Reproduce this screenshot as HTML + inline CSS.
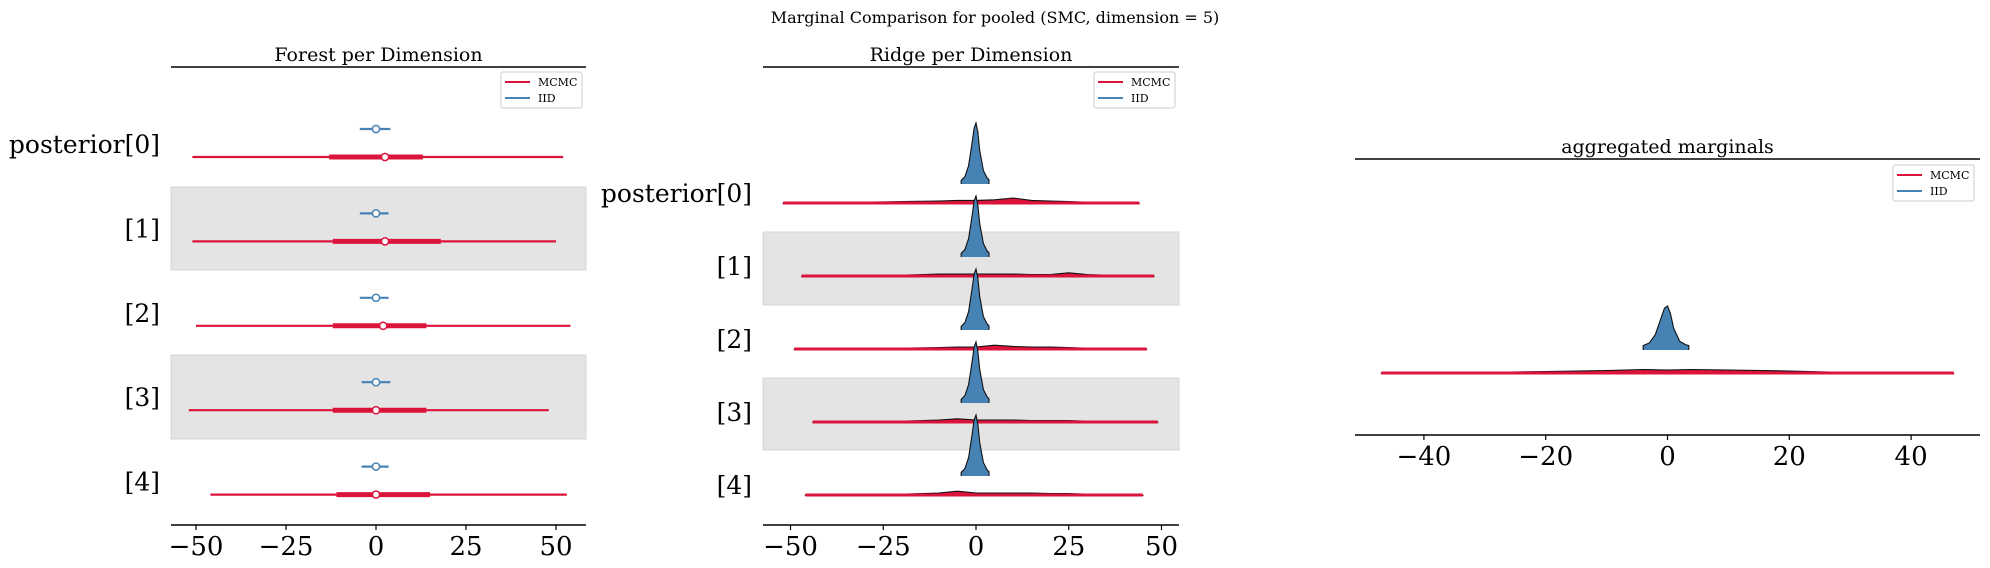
<!DOCTYPE html>
<html><head><meta charset="utf-8"><style>
html,body{margin:0;padding:0;background:#fff;}
svg{display:block;font-family:"DejaVu Serif","Liberation Serif",serif;}
</style></head><body>
<svg id="fig" width="1990" height="568" viewBox="0 0 1990 568" xmlns="http://www.w3.org/2000/svg">
<text x="995" y="23" font-size="16" text-anchor="middle">Marginal Comparison for pooled (SMC, dimension = 5)</text>
<g id="p1"></g>
<g id="p2"></g>
<g id="p3"></g>
</svg>
<script>
const rowLabels = ["posterior[0]","[1]","[2]","[3]","[4]"];
// forest data
const mcmcMedian = [2.5, 2.5, 2, 0, 0];
const mcmcOuterLo = [-51, -51, -50, -52, -46];
const mcmcOuterHi = [52, 50, 54, 48, 53];
const mcmcInnerLo = [-13, -12, -12, -12, -11];
const mcmcInnerHi = [13, 18, 14, 14, 15];
const iidMedian = [0, 0, 0, 0, 0];
const iidLo = [-4.5, -4.5, -4.5, -4, -4];
const iidHi = [4, 3.5, 3.5, 4, 3.5];
const forestTicks = [-50, -25, 0, 25, 50];
// ridge data
const iidGrid = [-4, -3, -2, -1, -0.5, 0, 0.5, 1, 2, 3, 3.5];
const iidDens = [
 [0.06,0.12,0.3,0.7,0.92,1.0,0.85,0.55,0.22,0.1,0.07],
 [0.06,0.12,0.3,0.7,0.92,1.0,0.85,0.55,0.22,0.1,0.07],
 [0.06,0.12,0.3,0.7,0.92,1.0,0.85,0.55,0.22,0.1,0.07],
 [0.06,0.12,0.3,0.7,0.92,1.0,0.85,0.55,0.22,0.1,0.07],
 [0.06,0.12,0.3,0.7,0.92,1.0,0.85,0.55,0.22,0.1,0.07]];
const redGrid = [-52,-40,-30,-20,-10,-5,0,5,10,15,20,25,30,40,49];
const redLo = [-52,-47,-49,-44,-46];
const redHi = [44,48,46,49,45];
const redDens = [
 [0.01,0.02,0.03,0.04,0.05,0.06,0.06,0.07,0.1,0.06,0.05,0.04,0.03,0.02,0.01],
 [0.01,0.02,0.03,0.03,0.05,0.05,0.05,0.05,0.05,0.04,0.04,0.07,0.04,0.02,0.01],
 [0.01,0.02,0.02,0.03,0.04,0.05,0.05,0.08,0.06,0.05,0.05,0.04,0.03,0.02,0.01],
 [0.01,0.02,0.03,0.03,0.05,0.07,0.05,0.05,0.05,0.04,0.04,0.04,0.03,0.02,0.01],
 [0.01,0.02,0.03,0.03,0.05,0.08,0.05,0.05,0.05,0.05,0.04,0.04,0.03,0.02,0.01]];
const ridgeTicks = [-50, -25, 0, 25, 50];
// aggregated
const aggIidDens = [0.1,0.16,0.35,0.75,0.95,1.0,0.82,0.5,0.2,0.12,0.1];
const aggGrid = [-47,-40,-30,-20,-10,-4,0,4,10,20,30,40,47];
const aggDens = [0.01,0.02,0.03,0.05,0.07,0.09,0.08,0.09,0.08,0.06,0.03,0.02,0.01];
const aggTicks = [-40, -20, 0, 20, 40];

const NS="http://www.w3.org/2000/svg";
const RED="#dc143c", BLUE="#4682b4";
function mk(parent, tag, attrs, text){const e=document.createElementNS(NS,tag);for(const k in attrs)e.setAttribute(k,attrs[k]);if(text!==undefined)e.textContent=text;parent.appendChild(e);return e;}
function fmt(v){return v<0?"\u2212"+(-v):""+v;}
function xAxis(g, x, ticks, y, x0, x1){
  const ax=mk(g,"line",{x1:x0,x2:x1,y1:y,y2:y,stroke:"#000","stroke-width":1.6});
  
  
  ticks.forEach(t=>{
    const tk=mk(g,"line",{x1:x(t),x2:x(t),y1:y,y2:y+5,stroke:"#000","stroke-width":1.2});
    
    
    const tl=mk(g,"text",{x:x(t),y:y+30,"font-size":26,"text-anchor":"middle"},fmt(t));
    
    
  });
}
function topLine(g,y,x0,x1,title,cx){
  const l=mk(g,"line",{x1:x0,x2:x1,y1:y,y2:y,stroke:"#000","stroke-width":1.6});
  
  
  const t=mk(g,"text",{x:cx,y:y-6,"font-size":19,"text-anchor":"middle"},title);
  
  
}
function legend(g,x,y){
  const lg=mk(g,"g",{});
  
  
  mk(lg,"rect",{x:x,y:y,width:81,height:36,rx:2,fill:"#fff",stroke:"#ccc","stroke-width":1});
  [["MCMC",RED],["IID",BLUE]].forEach((d,i)=>{
    const yy=y+10+i*16;
    const ln=mk(lg,"line",{x1:x+4,x2:x+29,y1:yy,y2:yy,stroke:d[1],"stroke-width":2});
    
    
    const tx=mk(lg,"text",{x:x+37,y:yy+4,"font-size":11},d[0]);
    
    
  });
}
function band(g,x0,x1,y0,y1){
  const b=mk(g,"rect",{x:x0,y:y0,width:x1-x0,height:y1-y0,fill:"#e4e4e4",stroke:"#d6d6d6"});
  
  
}
function ylabel(g,x,y,t){
  const e=mk(g,"text",{x:x,y:y,"font-size":25,"text-anchor":"end"},t);
  
  
}
// Panel 1: forest
(function(){
  const g=document.getElementById("p1");
  const L=171,R=586,x=v=>376+v*3.6;
  band(g,L,R,187,270);band(g,L,R,355,439);
  topLine(g,67,L,R,"Forest per Dimension",(L+R)/2);
  legend(g,501,72);
  rowLabels.forEach((lab,i)=>{
    const yb=129+i*84.4, yr=157+i*84.4;
    ylabel(g,160,yr-4,lab);
    const bl=mk(g,"line",{x1:x(iidLo[i]),x2:x(iidHi[i]),y1:yb,y2:yb,stroke:BLUE,"stroke-width":2.2});
    
    
    const bp=mk(g,"circle",{cx:x(iidMedian[i]),cy:yb,r:3.6,fill:"#fff",stroke:BLUE,"stroke-width":1.5});
    
    
    const ro=mk(g,"line",{x1:x(mcmcOuterLo[i]),x2:x(mcmcOuterHi[i]),y1:yr,y2:yr,stroke:RED,"stroke-width":2.2});
    
    
    const ri=mk(g,"line",{x1:x(mcmcInnerLo[i]),x2:x(mcmcInnerHi[i]),y1:yr,y2:yr,stroke:RED,"stroke-width":5});
    
    
    const rp=mk(g,"circle",{cx:x(mcmcMedian[i]),cy:yr,r:3.6,fill:"#fff",stroke:RED,"stroke-width":1.5});
    
    
  });
  xAxis(g,x,forestTicks,525,L,R);
})();
function ridgePath(g,grid,dens,lo,hi,x,base,scale,color,name,thickBase){
  const xs=[],ys=[];
  grid.forEach((gv,j)=>{let v=gv;if(v<lo)v=lo;if(v>hi)v=hi;xs.push(x(v));ys.push(base-dens[j]*scale);});
  let d="M"+xs[0]+","+base;
  xs.forEach((xx,j)=>{d+=" L"+xx+","+ys[j];});
  d+=" L"+xs[xs.length-1]+","+base+" Z";
  const p=mk(g,"path",{d:d,fill:color,stroke:"none"});
  
  
  let d2="M"+xs[0]+","+base;
  xs.forEach((xx,j)=>{d2+=" L"+xx+","+ys[j];});
  d2+=" L"+xs[xs.length-1]+","+base;
  const o=mk(g,"path",{d:d2,fill:"none",stroke:"#111","stroke-width":1.1});
  
  
  if(thickBase){
    const b=mk(g,"line",{x1:xs[0],x2:xs[xs.length-1],y1:base-1,y2:base-1,stroke:color,"stroke-width":3});
    
    
  }
}
// Panel 2: ridge
(function(){
  const g=document.getElementById("p2");
  const L=763,R=1179,x=v=>976+v*3.71;
  band(g,L,R,232,305);band(g,L,R,378,450);
  topLine(g,67,L,R,"Ridge per Dimension",(L+R)/2);
  legend(g,1094,72);
  rowLabels.forEach((lab,i)=>{
    const rb=204+i*73, bb=184+i*73;
    ylabel(g,752,rb-2,lab);
    ridgePath(g,redGrid,redDens[i],redLo[i],redHi[i],x,rb,60,RED,'mcmc-ridge',true);
    ridgePath(g,iidGrid,iidDens[i],-99,99,x,bb,61,BLUE,'iid-ridge',false);
  });
  xAxis(g,x,ridgeTicks,525,L,R);
})();
// Panel 3: aggregated
(function(){
  const g=document.getElementById("p3");
  const L=1355,R=1980,x=v=>1667.5+v*6.09;
  topLine(g,159,L,R,"aggregated marginals",(L+R)/2);
  legend(g,1893,165);
  ridgePath(g,aggGrid,aggDens,-99,99,x,374,50,RED,'mcmc-aggregated',true);
  ridgePath(g,iidGrid,aggIidDens,-99,99,x,350,44,BLUE,'iid-aggregated',false);
  xAxis(g,x,aggTicks,435,L,R);
})();
</script>
</body></html>
